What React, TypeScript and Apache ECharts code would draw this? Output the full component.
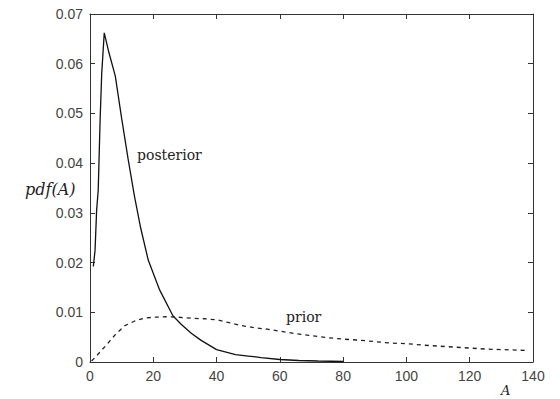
import React, { useEffect, useRef } from "react";
import * as echarts from "echarts";

// Posterior pdf (solid line)
const posteriorA = [1.05, 1.6, 2.1, 2.6, 3.2, 3.7, 4.5, 6, 8, 10, 12, 14, 16, 18.4, 22, 26.2, 28.8, 32, 35, 40, 46, 50, 54, 60, 66, 72, 80];
const posteriorPdf = [0.0192, 0.0225, 0.0306, 0.0346, 0.0487, 0.058, 0.0662, 0.0622, 0.0575, 0.049, 0.041, 0.0335, 0.027, 0.0205, 0.0145, 0.0093, 0.0076, 0.0058, 0.0044, 0.0025, 0.0015, 0.0012, 0.0009, 0.0005, 0.0003, 0.0002, 0.0001];

// Prior pdf (dashed line)
const priorA = [0.5, 2, 5, 8, 11, 14, 17, 20, 24, 28, 32, 36, 40, 44, 48, 52, 56, 60, 65, 70, 75, 80, 85, 90, 95, 100, 105, 110, 115, 120, 125, 130, 135, 138];
const priorPdf = [0.0002, 0.0012, 0.0033, 0.0055, 0.0073, 0.0082, 0.0088, 0.009, 0.0091, 0.009, 0.0088, 0.0087, 0.0085, 0.0079, 0.0073, 0.0069, 0.0066, 0.0062, 0.0057, 0.0053, 0.0049, 0.0046, 0.0044, 0.0041, 0.0038, 0.0037, 0.0034, 0.0032, 0.003, 0.0028, 0.0026, 0.0025, 0.0024, 0.0023];

const xTicks = [0, 20, 40, 60, 80, 100, 120, 140];
const yTicks = [0, 0.01, 0.02, 0.03, 0.04, 0.05, 0.06, 0.07];

const AXIS_COLOR = "#333";
const LABEL_COLOR = "#444";

export default function App() {
  const ref = useRef<HTMLDivElement>(null);

  useEffect(() => {
    if (!ref.current) return;
    const chart = echarts.init(ref.current, undefined, { renderer: "svg" });

    const baseX = {
      type: "value" as const,
      min: xTicks[0],
      max: xTicks[xTicks.length - 1],
      interval: 20,
      splitLine: { show: false },
      axisLine: { show: true, onZero: false, lineStyle: { color: AXIS_COLOR, width: 1 } },
      axisTick: { show: true, inside: true, length: 5, lineStyle: { color: AXIS_COLOR } },
    };
    const baseY = {
      type: "value" as const,
      min: yTicks[0],
      max: yTicks[yTicks.length - 1],
      interval: 0.01,
      splitLine: { show: false },
      axisLine: { show: true, onZero: false, lineStyle: { color: AXIS_COLOR, width: 1 } },
      axisTick: { show: true, inside: true, length: 5, lineStyle: { color: AXIS_COLOR } },
    };

    chart.setOption({
      animation: false,
      backgroundColor: "#fff",
      grid: { left: 90, right: 27, top: 14, bottom: 37, containLabel: false },
      xAxis: [
        {
          ...baseX,
          position: "bottom",
          axisLabel: {
            show: true,
            margin: 7,
            color: LABEL_COLOR,
            fontFamily: "Liberation Sans",
            fontSize: 14,
          },
        },
        { ...baseX, position: "top", axisLabel: { show: false } },
      ],
      yAxis: [
        {
          ...baseY,
          position: "left",
          axisLabel: {
            show: true,
            margin: 7,
            color: LABEL_COLOR,
            fontFamily: "Liberation Sans",
            fontSize: 14,
            formatter: (v: number) => (v === 0 ? "0" : v.toFixed(2)),
          },
        },
        { ...baseY, position: "right", axisLabel: { show: false } },
      ],
      series: [
        {
          type: "line",
          name: "posterior",
          xAxisIndex: 0,
          yAxisIndex: 0,
          showSymbol: false,
          symbol: "none",
          data: posteriorA.map((a, i) => [a, posteriorPdf[i]]),
          lineStyle: { color: "#111", width: 1.3, type: "solid" },
        },
        {
          type: "line",
          name: "prior",
          xAxisIndex: 0,
          yAxisIndex: 0,
          showSymbol: false,
          symbol: "none",
          data: priorA.map((a, i) => [a, priorPdf[i]]),
          lineStyle: { color: "#222", width: 1.3, type: [4, 4] },
        },
      ],
      graphic: [
        {
          type: "text",
          x: 137,
          y: 155,
          style: { text: "posterior", font: "14px 'DejaVu Serif'", fill: "#222", verticalAlign: "middle", align: "left" },
        },
        {
          type: "text",
          x: 286,
          y: 317,
          style: { text: "prior", font: "14px 'DejaVu Serif'", fill: "#222", verticalAlign: "middle", align: "left" },
        },
        {
          type: "text",
          x: 25,
          y: 189,
          style: { text: "pdf(A)", font: "italic 16px 'DejaVu Serif'", fill: "#222", verticalAlign: "middle", align: "left" },
        },
        {
          type: "text",
          x: 501,
          y: 397,
          style: { text: "A", font: "italic 13px 'DejaVu Serif'", fill: "#222", verticalAlign: "bottom", align: "left" },
        },
      ],
    });

    return () => chart.dispose();
  }, []);

  return (
    <div
      ref={ref}
      style={{ position: "fixed", left: 0, top: 0, width: 560, height: 399, background: "#fff" }}
    />
  );
}
